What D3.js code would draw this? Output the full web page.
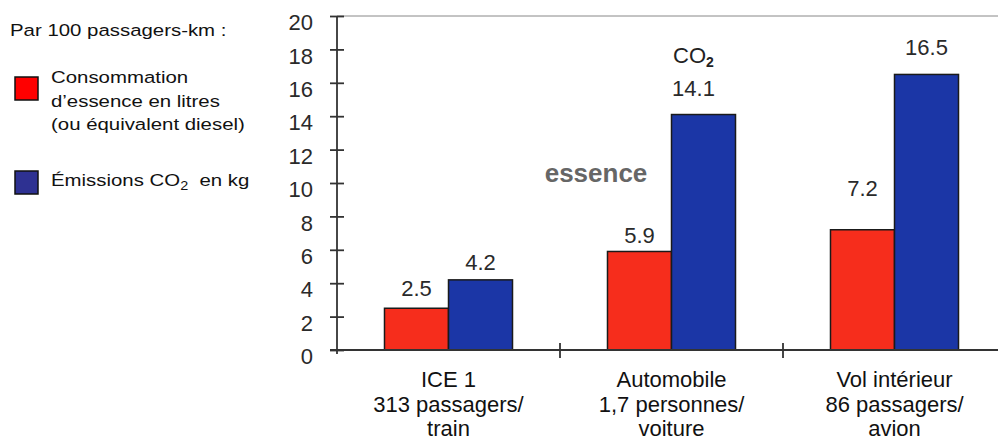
<!DOCTYPE html>
<html>
<head>
<meta charset="utf-8">
<script src="https://cdn.jsdelivr.net/npm/d3@7"></script>
<style>
  html, body { margin: 0; padding: 0; background: #fff; }
  svg { display: block; font-family: "Liberation Sans", Arial, sans-serif; }
</style>
</head>
<body>
<svg id="chart" width="998" height="443"></svg>
<script>
// ---- data ----
const categories = ["ICE 1", "Automobile", "Vol intérieur"];
const categoryLines = [
  ["ICE 1", "313 passagers/", "train"],
  ["Automobile", "1,7 personnes/", "voiture"],
  ["Vol intérieur", "86 passagers/", "avion"]
];
const seriesKeys = ["essence", "co2"];
const essenceValues = [2.5, 5.9, 7.2];
const co2Values = [4.2, 14.1, 16.5];
const yTicks = [0, 2, 4, 6, 8, 10, 12, 14, 16, 18, 20];
const legendTitle = "Par 100 passagers-km :";
const legendEssence = ["Consommation", "d\u2019essence en litres", "(ou équivalent diesel)"];

// ---- layout (not data) ----
const labelGap = [[12, 10], [8, 19], [34, 19]];
const colors = { essence: "#f62d1c", co2: "#1b36a6" };
const legendColors = { essence: "#ff0000", co2: "#2e3192" };

const svg = d3.select("#chart");
const y = d3.scaleLinear().domain([0, 20]).range([350, 16]);
const x = d3.scaleBand().domain(categories).range([337, 1006]).padding(0);
const x1 = d3.scaleBand().domain(seriesKeys).range([0, x.bandwidth()]).paddingInner(0).paddingOuter(0.742);

const rows = categories.map((c, i) => ({ cat: c, i, essence: essenceValues[i], co2: co2Values[i] }));

// top frame line
svg.append("line")
  .attr("x1", 337).attr("x2", 998)
  .attr("y1", y(20)).attr("y2", y(20))
  .attr("stroke", "#888").attr("stroke-width", 1);

// bars
const groups = svg.append("g").selectAll("g").data(rows).join("g")
  .attr("transform", d => `translate(${x(d.cat)},0)`);
groups.selectAll("rect").data(d => seriesKeys.map(k => ({ key: k, value: d[k] }))).join("rect")
  .attr("x", d => x1(d.key))
  .attr("width", x1.bandwidth())
  .attr("y", d => y(d.value))
  .attr("height", d => y(0) - y(d.value))
  .attr("fill", d => colors[d.key])
  .attr("stroke", "#1a1a1a").attr("stroke-width", 1.5);

// value labels
groups.each(function (d) {
  const g = d3.select(this);
  seriesKeys.forEach((k, j) => {
    g.append("text")
      .attr("x", x1(k) + x1.bandwidth() / 2 - (d.i === 1 && k === "co2" ? 10 : 0))
      .attr("y", y(d[k]) - labelGap[d.i][j])
      .attr("text-anchor", "middle")
      .attr("font-size", 22)
      .attr("fill", "#2a2a2a")
      .text(d[k].toFixed(1));
  });
});

// CO2 annotation above automobile blue bar
const co2Label = svg.append("text")
  .attr("x", x(categories[1]) + x1("co2") + x1.bandwidth() / 2 - 10)
  .attr("y", y(co2Values[1]) - 52)
  .attr("text-anchor", "middle")
  .attr("font-size", 22)
  .attr("fill", "#222");
co2Label.append("tspan").text("CO");
co2Label.append("tspan").attr("font-size", 14).attr("font-weight", "bold").attr("dy", 4).text("2");

// "essence" annotation
svg.append("text")
  .attr("x", x(categories[1]) + 36)
  .attr("y", 182)
  .attr("text-anchor", "middle")
  .attr("font-size", 26)
  .attr("font-weight", "bold")
  .attr("fill", "#666")
  .text("essence");

// y axis
const yAxis = svg.append("g").attr("transform", "translate(337,0)")
  .call(d3.axisLeft(y).tickValues(yTicks).tickSize(7).tickPadding(0));
yAxis.select(".domain").attr("stroke", "#333").attr("stroke-width", 1.8)
  .attr("d", `M0,${y(20)}V${y(0) + 4}`);
yAxis.selectAll(".tick line").attr("x1", -7).attr("x2", 7).attr("stroke", "#333").attr("stroke-width", 1.8);
yAxis.selectAll(".tick text")
  .attr("x", -24).attr("dy", "0.62em")
  .attr("font-size", 22).attr("fill", "#2a2a2a")
  .attr("font-family", "Liberation Sans, Arial, sans-serif");

// x baseline
svg.append("line")
  .attr("x1", 330).attr("x2", 998)
  .attr("y1", y(0)).attr("y2", y(0))
  .attr("stroke", "#333").attr("stroke-width", 1.8);
// category boundary ticks
svg.append("g").selectAll("line").data(categories.slice(1)).join("line")
  .attr("x1", d => x(d)).attr("x2", d => x(d))
  .attr("y1", y(0) - 7).attr("y2", y(0) + 8)
  .attr("stroke", "#333").attr("stroke-width", 1.8);

// category labels via bottom axis
const xAxis = svg.append("g").attr("transform", `translate(0,${y(0)})`)
  .call(d3.axisBottom(x).tickSize(0));
xAxis.select(".domain").remove();
xAxis.selectAll(".tick text").each(function (d, i) {
  const t = d3.select(this).text(null)
    .attr("y", 0).attr("dy", null)
    .attr("font-size", 22).attr("fill", "#111")
    .attr("font-family", "Liberation Sans, Arial, sans-serif");
  categoryLines[i].forEach((line, k) => {
    t.append("tspan").attr("x", 0).attr("y", 37 + k * 24.5).text(line);
  });
});

// legend
const lg = svg.append("g");
lg.append("text").attr("transform", "translate(10,36) scale(1.2,1)")
  .attr("font-size", 17).attr("fill", "#111").text(legendTitle);
lg.append("rect").attr("x", 15).attr("y", 77).attr("width", 23).attr("height", 23)
  .attr("fill", legendColors.essence).attr("stroke", "#111").attr("stroke-width", 1.5);
legendEssence.forEach((line, k) => {
  lg.append("text").attr("transform", `translate(51,${83 + k * 23.5}) scale(1.2,1)`)
    .attr("font-size", 17).attr("fill", "#111").text(line);
});
lg.append("rect").attr("x", 15).attr("y", 171).attr("width", 23).attr("height", 23)
  .attr("fill", legendColors.co2).attr("stroke", "#111").attr("stroke-width", 1.5);
const le = lg.append("text").attr("transform", "translate(51,186) scale(1.2,1)")
  .attr("font-size", 17).attr("fill", "#111");
le.append("tspan").text("Émissions CO");
le.append("tspan").attr("font-size", 12).attr("dy", 4).text("2");
le.append("tspan").attr("dy", -4).text("\u00a0 en kg");
</script>
</body>
</html>
